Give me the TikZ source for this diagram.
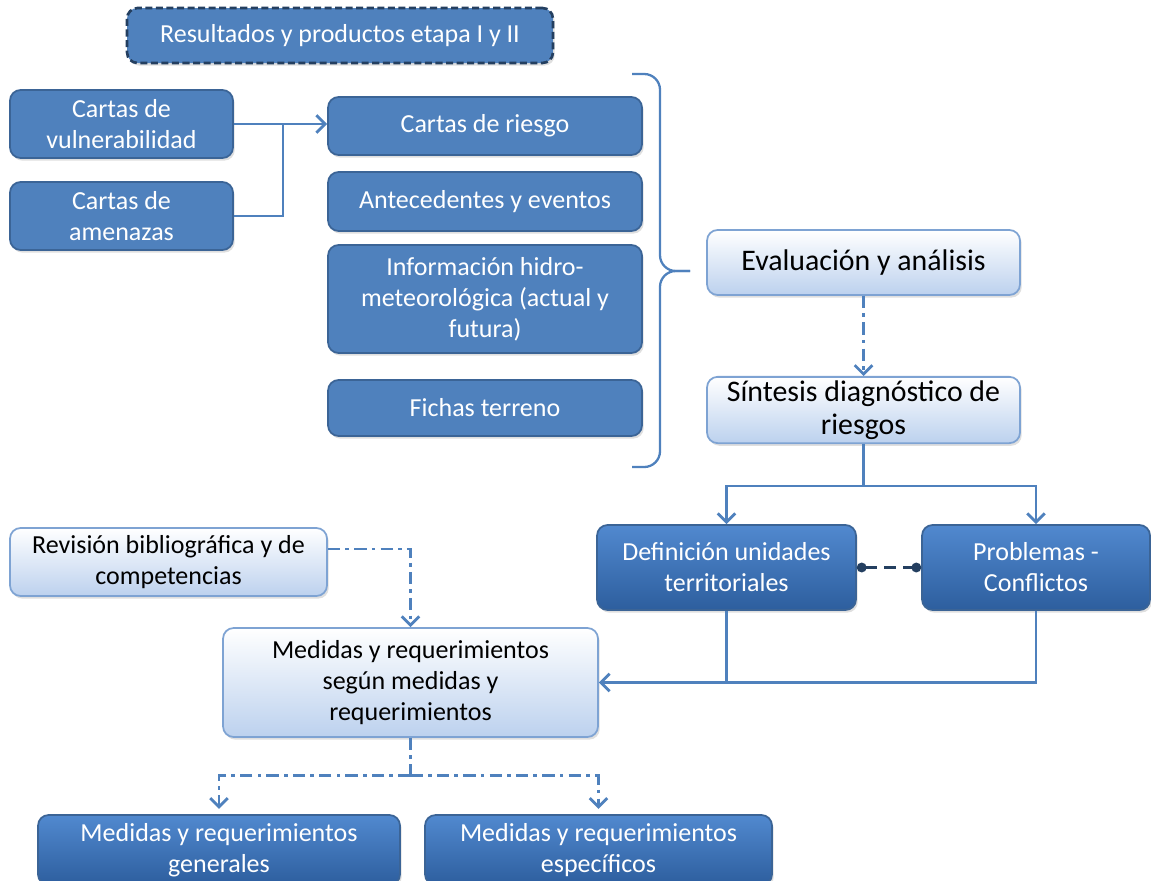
\documentclass[tikz,border=0pt]{standalone}
\usepackage{fontspec}
\setmainfont{Carlito}
\usetikzlibrary{arrows.meta,shadows}
\definecolor{azul}{HTML}{4F81BD}
\definecolor{azulborde}{HTML}{3B6496}
\definecolor{claraborde}{HTML}{7EA3D3}
\definecolor{claraabajo}{HTML}{BCD1EE}
\definecolor{oscuraarriba}{HTML}{5189CF}
\definecolor{oscuraabajo}{HTML}{2D5E9E}
\definecolor{marino}{HTML}{243F60}
\tikzset{
  caja/.style={draw=azulborde, fill=azul, line width=1pt, rounded corners=6pt,
    text=white, align=center, inner sep=2pt,
    font=\fontsize{14.8}{17.6}\selectfont,
    drop shadow={opacity=0.25, shadow xshift=1pt, shadow yshift=-1.5pt}},
  clara/.style={caja, draw=claraborde, top color=white, bottom color=claraabajo,
    text=black},
  oscura/.style={caja, draw=azulborde, top color=oscuraarriba,
    bottom color=oscuraabajo},
  linea/.style={azul, line width=1.6pt},
  punteo/.style={linea, dash pattern=on 7pt off 3pt on 2pt off 3pt}
}
\begin{document}
\begin{tikzpicture}[x=0.02cm, y=-0.02cm,
    >={Straight Barb[length=5pt,width=10pt]}]
  \useasboundingbox (0,0) rectangle (1151,880);

  % Encabezado
  \node[caja, draw=marino, line width=1.5pt, dash pattern=on 4pt off 2pt,
        minimum width=8.52cm, minimum height=1.1cm] (etapas) at (340,35.5)
        {Resultados y productos etapa I y II};

  % Cartas de entrada
  \node[caja, minimum width=4.46cm, minimum height=1.36cm] (vulne) at (121.5,124)
        {Cartas de\\vulnerabilidad};
  \node[caja, minimum width=4.46cm, minimum height=1.36cm] (amena) at (121.5,216)
        {Cartas de\\amenazas};

  % Columna de productos
  \node[caja, minimum width=6.28cm, minimum height=1.16cm] (riesgo) at (485,126)
        {Cartas de riesgo};
  \node[caja, minimum width=6.28cm, minimum height=1.18cm] (antec) at (485,201.5)
        {Antecedentes y eventos};
  \node[caja, minimum width=6.28cm, minimum height=2.16cm] (hidro) at (485,299)
        {Información hidro-\\meteorológica (actual y\\futura)};
  \node[caja, minimum width=6.28cm, minimum height=1.12cm] (fichas) at (485,408)
        {Fichas terreno};

  % Evaluacion y sintesis
  \node[clara, font=\fontsize{17}{20}\selectfont, minimum width=6.26cm,
        minimum height=1.3cm] (evalua) at (863.5,262.5) {Evaluación y análisis};
  \node[clara, font=\fontsize{17}{19}\selectfont, minimum width=6.26cm,
        minimum height=1.32cm] (sintesis) at (863.5,410)
        {Síntesis diagnóstico de\\riesgos};

  % Unidades y problemas
  \node[oscura, minimum width=5.18cm, minimum height=1.7cm] (unidades) at (726.5,567.5)
        {Definición unidades\\territoriales};
  \node[oscura, minimum width=4.56cm, minimum height=1.7cm] (problemas) at (1036,567.5)
        {Problemas -\\Conflictos};

  % Revision y medidas
  \node[clara, minimum width=6.34cm, minimum height=1.36cm] (revision) at (168.5,562)
        {Revisión bibliográfica y de\\competencias};
  \node[clara, minimum width=7.5cm, minimum height=2.18cm] (medidas) at (410.5,682.5)
        {Medidas y requerimientos\\según medidas y\\requerimientos};
  \node[oscura, minimum width=7.24cm, minimum height=1.4cm] (generales) at (219,850)
        {Medidas y requerimientos\\generales};
  \node[oscura, minimum width=6.94cm, minimum height=1.4cm] (especif) at (598.5,850)
        {Medidas y requerimientos\\específicos};

  % Cartas -> riesgo
  \coordinate (codo) at (283,124);
  \draw[linea, ->] (vulne.east) -- (vulne.east -| riesgo.west);
  \draw[linea] (amena.east) -| (codo);

  % Llave
  \coordinate (punta) at (690,271);
  \draw[linea, line width=1.3pt, rounded corners=9pt]
        (632,74) -- (660,74) -- (660,271) -- (punta);
  \draw[linea, line width=1.3pt, rounded corners=9pt]
        (632,467) -- (660,467) -- (660,271) -- (punta);

  % Evaluacion -> sintesis -> ramas
  \draw[punteo, ->] (evalua) -- (sintesis);
  \draw[linea] (sintesis.south) -- ++(0,42) coordinate (reparte);
  \draw[linea, ->] (reparte) -| (unidades.north);
  \draw[linea, ->] (reparte) -| (problemas.north);
  \draw[marino, line width=2pt, dash pattern=on 7pt off 4pt,
        {Circle[length=5.5pt]}-{Circle[length=5.5pt]}] (unidades.east) -- (problemas.west);

  % Hacia medidas
  \draw[linea] (unidades.south) -- (unidades.south |- medidas.east);
  \draw[linea, ->] (problemas.south) |- (medidas.east);
  \draw[punteo, ->] ([yshift=0.26cm]revision.east) -| (medidas.north);

  % Medidas -> generales / especificos
  \draw[punteo] (medidas.south) -- ++(0,38) coordinate (baja);
  \draw[punteo, ->, shorten >=3pt] (baja) -| (generales.north);
  \draw[punteo, ->, shorten >=3pt] (baja) -| (especif.north);
\end{tikzpicture}
\end{document}
